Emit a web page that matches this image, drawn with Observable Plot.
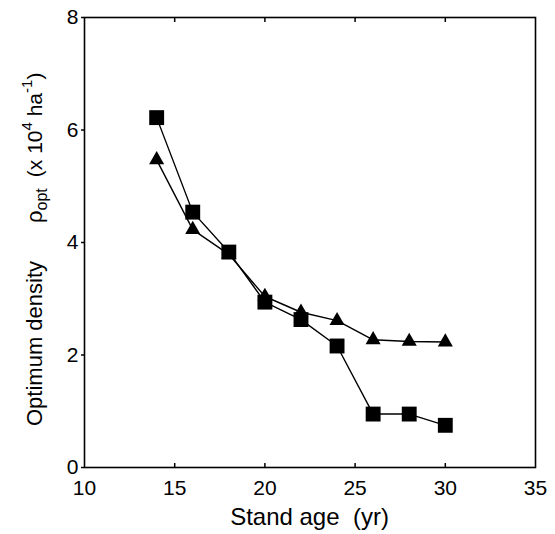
<!DOCTYPE html>
<html><head><meta charset="utf-8">
<script src="https://cdn.jsdelivr.net/npm/d3@7"></script>
<script src="https://cdn.jsdelivr.net/npm/@observablehq/plot@0.6"></script>
<style>body{margin:0;background:#fff}</style>
</head><body><div id="chart"></div>
<script>
const ages = [14, 16, 18, 20, 22, 24, 26, 28, 30];
const squareSeries = [6.22, 4.54, 3.83, 2.94, 2.63, 2.16, 0.95, 0.95, 0.75];
const triangleSeries = [5.47, 4.23, 3.79, 3.04, 2.76, 2.61, 2.27, 2.24, 2.23];
const xTicks = [10, 15, 20, 25, 30, 35];
const xInnerTicks = [15, 20, 25, 30];
const yTicks = [0, 2, 4, 6, 8];
const xTitle = "Stand age\u00a0\u00a0(yr)";

const sq = ages.map((a, i) => ({age: a, v: squareSeries[i]}));
const tr = ages.map((a, i) => ({age: a, v: triangleSeries[i]}));

const font = "'Liberation Sans', Arial, sans-serif";
const plot = Plot.plot({
  width: 555, height: 534,
  marginLeft: 84, marginRight: 20, marginTop: 17, marginBottom: 67,
  x: {domain: [10, 35], label: null},
  y: {domain: [0, 8], label: null},
  style: {fontFamily: font, fontSize: "21px", color: "#000", background: "#fff"},
  marks: [
    Plot.axisX({ticks: xTicks, tickSize: 0, tickPadding: 13, label: null, fontSize: 21}),
    Plot.axisX({ticks: xInnerTicks, tickSize: -4, text: null, label: null, strokeWidth: 1.5}),
    Plot.axisX({anchor: "top", ticks: xInnerTicks, tickSize: -4, text: null, label: null, strokeWidth: 1.5}),
    Plot.axisY({ticks: yTicks, tickSize: 3, tickPadding: 3, label: null, fontSize: 21, strokeWidth: 1.5}),
    Plot.frame({stroke: "#000", strokeWidth: 1.6}),
    Plot.line(sq, {x: "age", y: "v", stroke: "#000", strokeWidth: 1.4}),
    Plot.line(tr, {x: "age", y: "v", stroke: "#000", strokeWidth: 1.4}),
    Plot.dot(sq, {x: "age", y: "v", symbol: "square", r: 8.4, fill: "#000", stroke: "none"}),
    Plot.dot(tr, {x: "age", y: "v", symbol: "triangle", r: 5.6, fill: "#000", stroke: "none"})
  ]
});

const svg = d3.select(plot);
svg.append("text")
  .attr("x", 309.5).attr("y", 525)
  .attr("text-anchor", "middle")
  .attr("font-family", font).attr("font-size", 24).attr("fill", "#000")
  .text(xTitle);

const yt = svg.append("text")
  .attr("transform", "translate(42,426) rotate(-90)")
  .attr("font-family", font).attr("font-size", 22).attr("fill", "#000")
  .attr("text-anchor", "start");
yt.append("tspan").text("Optimum density");
yt.append("tspan").attr("dx", 38).text("\u03c1");
yt.append("tspan").attr("font-size", 16).attr("dy", 5).text("opt");
yt.append("tspan").attr("dy", -5).attr("dx", 11).attr("font-size", 21).text("(x 10");
yt.append("tspan").attr("font-size", 15).attr("dy", -10).text("4");
yt.append("tspan").attr("dy", 10).attr("font-size", 21).text("\u00a0ha");
yt.append("tspan").attr("font-size", 15).attr("dy", -10).text("-1");
yt.append("tspan").attr("dy", 10).attr("font-size", 21).text(")");

document.getElementById("chart").appendChild(plot);
</script>
</body></html>
